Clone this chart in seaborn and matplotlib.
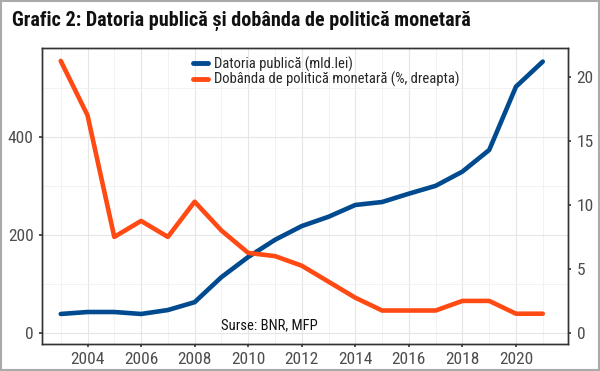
import matplotlib
matplotlib.use("Agg")
import matplotlib.pyplot as plt
from matplotlib.ticker import MultipleLocator
from matplotlib.lines import Line2D
from matplotlib import font_manager
import seaborn as sns
import pandas as pd

years = list(range(2003, 2022))
datoria = [39, 43, 43, 39, 47, 63, 114, 155, 190, 218, 237, 261, 267, 284, 300, 329, 373, 502, 553]
dobanda = [21.25, 17.0, 7.5, 8.75, 7.5, 10.25, 8.0, 6.25, 6.0, 5.25, 4.0, 2.75, 1.75, 1.75, 1.75, 2.5, 2.5, 1.5, 1.5]

title = "Grafic 2: Datoria publică și dobânda de politică monetară"
label_debt = "Datoria publică (mld.lei)"
label_rate = "Dobânda de politică monetară (%, dreapta)"
source = "Surse: BNR, MFP"

df = pd.DataFrame({"an": years, "datoria": datoria, "dobanda": dobanda})

sns.set_theme(style="white")

names = {f.name for f in font_manager.fontManager.ttflist}
fam = None
for cand in ["Liberation Sans Narrow", "Roboto Condensed", "Open Sans Condensed", "DejaVu Sans"]:
    if cand in names:
        fam = cand
        break
plt.rcParams["font.family"] = [fam, "DejaVu Sans"]
plt.rcParams["font.stretch"] = "condensed"

BLUE = "#004a8f"
ORANGE = "#ff4a14"
TICKC = "#4d4d4d"

fig = plt.figure(figsize=(6, 3.71), dpi=100)
ax = fig.add_axes([0.07, 0.073, 0.877, 0.798])
ax2 = ax.twinx()

sns.lineplot(data=df, x="an", y="datoria", ax=ax, color=BLUE, linewidth=3.3, legend=False)
sns.lineplot(data=df, x="an", y="dobanda", ax=ax2, color=ORANGE, linewidth=3.3, legend=False)

ax.set_xlim(2002.3, 2021.95)
ax.set_ylim(-22, 581)
ax2.set_ylim(-0.86, 22.27)

ax.xaxis.set_major_locator(MultipleLocator(2))
ax.xaxis.set_minor_locator(MultipleLocator(1))
ax.yaxis.set_major_locator(MultipleLocator(200))
ax.yaxis.set_minor_locator(MultipleLocator(100))
ax2.yaxis.set_major_locator(MultipleLocator(5))

ax.grid(True, which="major", color="#e6e6e6", linewidth=0.8)
ax.grid(True, which="minor", color="#f0f0f0", linewidth=0.6)
ax2.grid(False)
ax.set_axisbelow(True)

ax.set_xlabel("")
ax.set_ylabel("")
ax2.set_ylabel("")

for a in (ax, ax2):
    for s in a.spines.values():
        s.set_color("#333333")
        s.set_linewidth(1.0)
    a.tick_params(axis="both", which="major", length=2, width=1.2, color="#333333",
                  labelcolor=TICKC, labelsize=12.5, pad=4)
    a.tick_params(axis="both", which="minor", length=0)

ax.tick_params(axis="x", bottom=True)
ax.tick_params(axis="y", left=True)
ax2.tick_params(axis="y", right=True)

handles = [Line2D([0], [0], color=BLUE, linewidth=3.5),
           Line2D([0], [0], color=ORANGE, linewidth=3.5)]
ax.legend(handles, [label_debt, label_rate], loc="upper center",
          bbox_to_anchor=(0.54, 1.015), frameon=False, handlelength=1.0,
          handletextpad=0.4, labelspacing=0.0, prop={"size": 10.5})

ax.text(2010.8, 1, source, ha="center", va="bottom", fontsize=10.5, color="#111111")

fig.text(0.02, 0.945, title, ha="left", va="center", fontsize=14.5, fontweight="bold",
         color="#111111")

fig.patches.append(plt.Rectangle((0.002, 0.003), 0.996, 0.994, transform=fig.transFigure,
                                 fill=False, edgecolor="#aaaaaa", linewidth=1.5))

fig.savefig("out.png", dpi=100)
